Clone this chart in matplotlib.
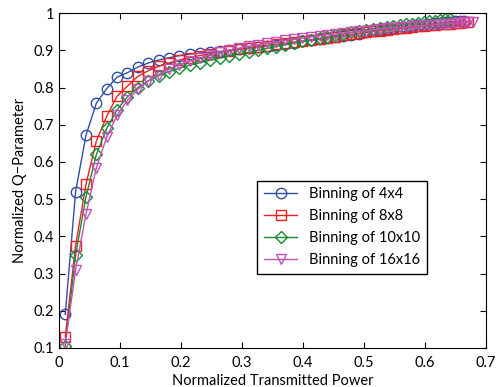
import matplotlib
matplotlib.use("Agg")
import matplotlib.pyplot as plt

# normalized transmitted power (shared grid, each series uses its own length)
power = [0.010, 0.027, 0.044, 0.061, 0.078, 0.095, 0.112, 0.129, 0.146, 0.163,
         0.180, 0.197, 0.214, 0.231, 0.247, 0.263, 0.279, 0.295, 0.311, 0.326,
         0.341, 0.356, 0.371, 0.385, 0.399, 0.413, 0.427, 0.440, 0.453, 0.466,
         0.479, 0.491, 0.503, 0.515, 0.526, 0.537, 0.548, 0.559, 0.569, 0.579,
         0.589, 0.598, 0.607, 0.616, 0.625, 0.633, 0.641, 0.649, 0.657, 0.664,
         0.671, 0.678]

q_4x4 = [0.19, 0.52, 0.672, 0.758, 0.797, 0.828, 0.840, 0.855, 0.866, 0.874,
         0.880, 0.886, 0.890, 0.893, 0.895, 0.897, 0.900, 0.903, 0.906, 0.909,
         0.912, 0.915, 0.918, 0.921, 0.924, 0.927, 0.930, 0.933, 0.936, 0.939,
         0.942, 0.945, 0.948, 0.951, 0.954, 0.957, 0.959, 0.961, 0.963, 0.965,
         0.967, 0.969, 0.971, 0.973, 0.974, 0.976, 0.977, 0.978, 0.979, 0.980]

q_8x8 = [0.13, 0.375, 0.54, 0.656, 0.723, 0.777, 0.804, 0.830, 0.845, 0.857,
         0.866, 0.874, 0.880, 0.886, 0.891, 0.895, 0.899, 0.903, 0.907, 0.910,
         0.913, 0.916, 0.919, 0.922, 0.925, 0.928, 0.931, 0.934, 0.937, 0.940,
         0.943, 0.946, 0.949, 0.951, 0.953, 0.955, 0.957, 0.959, 0.961, 0.963,
         0.965, 0.966, 0.968, 0.969, 0.970, 0.971, 0.972, 0.973, 0.974, 0.975,
         0.976]

q_10x10 = [0.105, 0.35, 0.506, 0.62, 0.69, 0.74, 0.775, 0.80, 0.818, 0.832,
           0.843, 0.852, 0.860, 0.867, 0.873, 0.879, 0.885, 0.890, 0.895, 0.900,
           0.905, 0.910, 0.915, 0.919, 0.924, 0.928, 0.932, 0.936, 0.940, 0.944,
           0.948, 0.952, 0.955, 0.958, 0.961, 0.964, 0.966, 0.968, 0.970, 0.972,
           0.974, 0.976, 0.978, 0.980, 0.982, 0.984, 0.985]

q_16x16 = [0.11, 0.31, 0.46, 0.584, 0.667, 0.726, 0.766, 0.795, 0.818, 0.835,
           0.849, 0.861, 0.871, 0.880, 0.888, 0.895, 0.901, 0.906, 0.911, 0.915,
           0.919, 0.923, 0.927, 0.930, 0.933, 0.936, 0.939, 0.942, 0.944, 0.947,
           0.949, 0.951, 0.953, 0.955, 0.957, 0.959, 0.960, 0.962, 0.963, 0.965,
           0.966, 0.967, 0.968, 0.969, 0.970, 0.971, 0.972, 0.973, 0.974, 0.975,
           0.975, 0.976]

plt.rcParams['font.family'] = ['Lato', 'DejaVu Sans']
plt.rcParams['font.size'] = 10

fig = plt.figure(figsize=(4.97, 3.87), dpi=100)
ax = fig.add_axes([0.119, 0.101, 0.859, 0.865])

series = [
    (q_4x4, '#2f4fa8', 'o', 'Binning of 4x4'),
    (q_8x8, '#f02020', 's', 'Binning of 8x8'),
    (q_10x10, '#178a35', 'D', 'Binning of 10x10'),
    (q_16x16, '#c452b4', 'v', 'Binning of 16x16'),
]
for q, c, m, lab in series:
    ms = 6 if m == 'D' else 7.5
    ax.plot(power[:len(q)], q, color=c, marker=m, mfc='none', mec=c,
            ms=ms, lw=1, mew=1, label=lab)

ax.set_xlim(0, 0.7)
ax.set_ylim(0.1, 1)
ax.set_xticks([0, 0.1, 0.2, 0.3, 0.4, 0.5, 0.6, 0.7])
ax.set_xticklabels(['0', '0.1', '0.2', '0.3', '0.4', '0.5', '0.6', '0.7'])
ax.set_yticks([0.1, 0.2, 0.3, 0.4, 0.5, 0.6, 0.7, 0.8, 0.9, 1])
ax.set_yticklabels(['0.1', '0.2', '0.3', '0.4', '0.5', '0.6', '0.7', '0.8', '0.9', '1'])
ax.tick_params(direction='in', top=True, right=True, length=4, labelsize=10.5)
ax.tick_params(axis='x', pad=6)
ax.set_xlabel('Normalized Transmitted Power', labelpad=3, fontsize=10.5)
ax.set_ylabel('Normalized Q\u2212Parameter', labelpad=5, fontsize=10.5)

leg = ax.legend(loc='upper left', bbox_to_anchor=(0.464, 0.50), fancybox=False,
                edgecolor='black', framealpha=1, handlelength=2.3,
                borderpad=0.45, labelspacing=0.55, borderaxespad=0,
                fontsize=10.5)
leg.get_frame().set_linewidth(1)

fig.savefig('out.png', dpi=100)
